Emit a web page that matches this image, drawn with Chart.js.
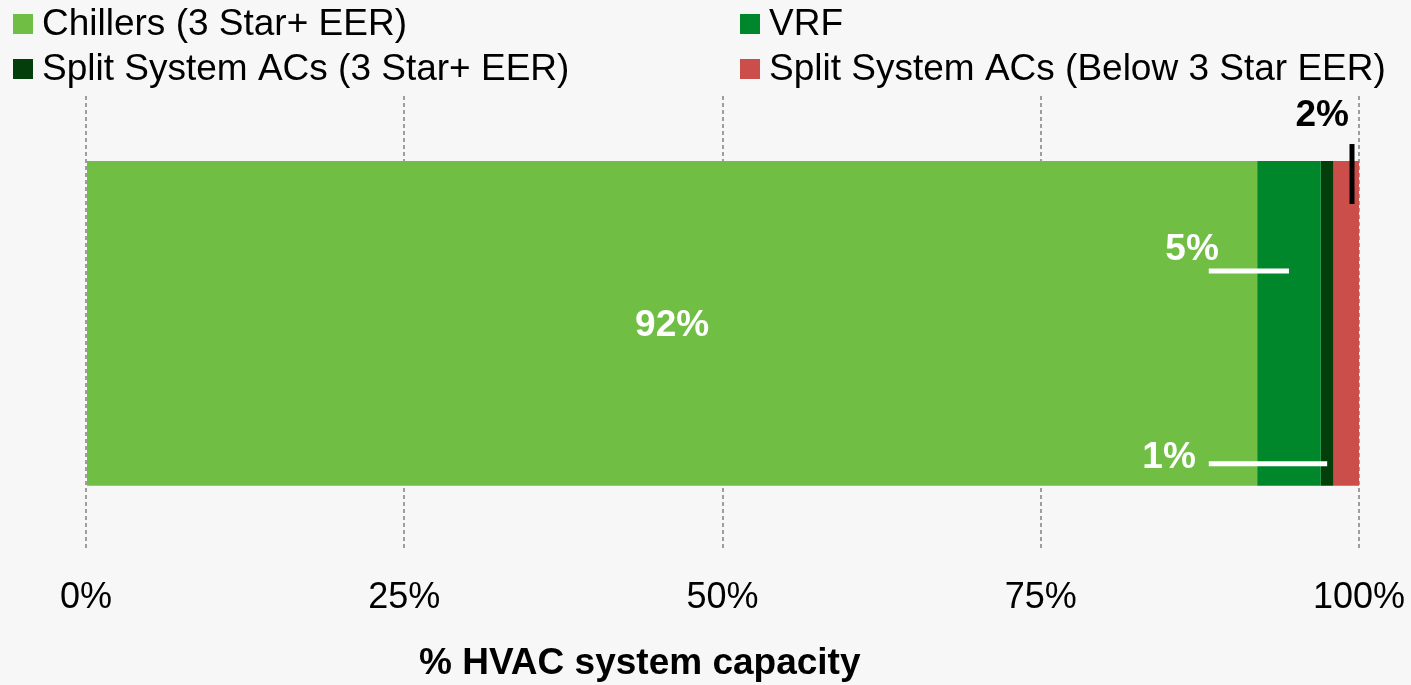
<!DOCTYPE html>
<html>
<head>
<meta charset="utf-8">
<script src="https://cdn.jsdelivr.net/npm/chart.js@4"></script>
<style>
  html, body { margin: 0; padding: 0; background: #f7f7f7; }
  #wrap { width: 1411px; height: 685px; }
</style>
</head>
<body>
<div id="wrap"><canvas id="chart" width="1411" height="685"></canvas></div>
<script>
const categories = ['HVAC system capacity'];
const seriesNames = ['Chillers (3 Star+ EER)', 'VRF', 'Split System ACs (3 Star+ EER)', 'Split System ACs (Below 3 Star EER)'];
const seriesValues = [92, 5, 1, 2];
const seriesColors = ['#70bf44', '#00872c', '#043f0b', '#cb4e4a'];
const tickValues = [0, 25, 50, 75, 100];
const axisTitle = '% HVAC system capacity';

const FONT = '"Liberation Sans", Arial, sans-serif';

// legend in two columns, row by row
const legendPlugin = {
  id: 'gridLegend',
  afterDraw(chart) {
    const ctx = chart.ctx;
    ctx.save();
    ctx.font = '37px ' + FONT;
    ctx.textBaseline = 'middle';
    chart.data.datasets.forEach((ds, i) => {
      const x = i % 2 === 0 ? 13 : 740;
      const y = 24 + Math.floor(i / 2) * 45;
      ctx.fillStyle = ds.backgroundColor;
      ctx.fillRect(x, y - 10, 20, 20);
      ctx.fillStyle = '#000';
      ctx.fillText(ds.label, x + 29, y + 1);
    });
    ctx.restore();
  }
};

// value labels with leader lines
const labelPlugin = {
  id: 'segmentLabels',
  afterDatasetsDraw(chart) {
    const ctx = chart.ctx;
    const xs = chart.scales.x;
    const lineStart = xs.getPixelForValue(88.2);
    ctx.save();
    ctx.font = 'bold 37px ' + FONT;
    ctx.textBaseline = 'middle';
    ctx.lineWidth = 5;
    chart.data.datasets.forEach((ds, i) => {
      const bar = chart.getDatasetMeta(i).data[0];
      const top = bar.y - bar.height / 2;
      const bottom = bar.y + bar.height / 2;
      const mid = (bar.base + bar.x) / 2;
      const text = ds.data[0] + '%';
      if (i === 0) {
        ctx.fillStyle = '#fff';
        ctx.textAlign = 'center';
        ctx.fillText(text, mid, bar.y + 2);
      } else if (i === 1) {
        ctx.strokeStyle = '#fff';
        ctx.beginPath(); ctx.moveTo(lineStart, top + 110); ctx.lineTo(mid, top + 110); ctx.stroke();
        ctx.fillStyle = '#fff';
        ctx.textAlign = 'right';
        ctx.fillText(text, lineStart + 10, top + 89);
      } else if (i === 2) {
        ctx.strokeStyle = '#fff';
        ctx.beginPath(); ctx.moveTo(lineStart, bottom - 22); ctx.lineTo(mid, bottom - 22); ctx.stroke();
        ctx.fillStyle = '#fff';
        ctx.textAlign = 'right';
        ctx.fillText(text, lineStart - 13, bottom - 28);
      } else {
        ctx.strokeStyle = '#000';
        ctx.beginPath(); ctx.moveTo(bar.x - 7, top - 17); ctx.lineTo(bar.x - 7, top + 43); ctx.stroke();
        ctx.fillStyle = '#000';
        ctx.textAlign = 'right';
        ctx.fillText(text, bar.x - 10, top - 45);
      }
    });
    ctx.restore();
  }
};

// axis title, placed left of centre as in the source
const axisTitlePlugin = {
  id: 'axisTitle',
  afterDraw(chart) {
    const ctx = chart.ctx;
    const area = chart.chartArea;
    ctx.save();
    ctx.font = 'bold 37px ' + FONT;
    ctx.fillStyle = '#000';
    ctx.textAlign = 'center';
    ctx.textBaseline = 'middle';
    ctx.fillText(axisTitle, area.left + (area.right - area.left) * 0.435, 664);
    ctx.restore();
  }
};

new Chart(document.getElementById('chart'), {
  type: 'bar',
  data: {
    labels: categories,
    datasets: seriesNames.map((name, i) => ({
      label: name,
      data: [seriesValues[i]],
      backgroundColor: seriesColors[i],
      borderWidth: 0,
      categoryPercentage: 1,
      barPercentage: 0.714
    }))
  },
  options: {
    indexAxis: 'y',
    responsive: false,
    animation: false,
    layout: { padding: { top: 96, left: 86, right: 52, bottom: 39 } },
    plugins: { legend: { display: false }, tooltip: { enabled: false } },
    scales: {
      x: {
        stacked: true,
        min: 0,
        max: 100,
        afterBuildTicks: axis => { axis.ticks = tickValues.map(v => ({ value: v })); },
        // let the end labels hang past the plot edges
        afterFit: axis => { axis.paddingLeft = 0; axis.paddingRight = 0; },
        grid: { color: '#9e9e9e', lineWidth: 2, drawTicks: false },
        border: { display: false, dash: [4, 3] },
        ticks: {
          color: '#000',
          font: { size: 36, family: FONT },
          padding: 26,
          maxRotation: 0,
          callback: v => v + '%'
        }
      },
      y: { stacked: true, display: false }
    }
  },
  plugins: [legendPlugin, labelPlugin, axisTitlePlugin]
});
</script>
</body>
</html>
